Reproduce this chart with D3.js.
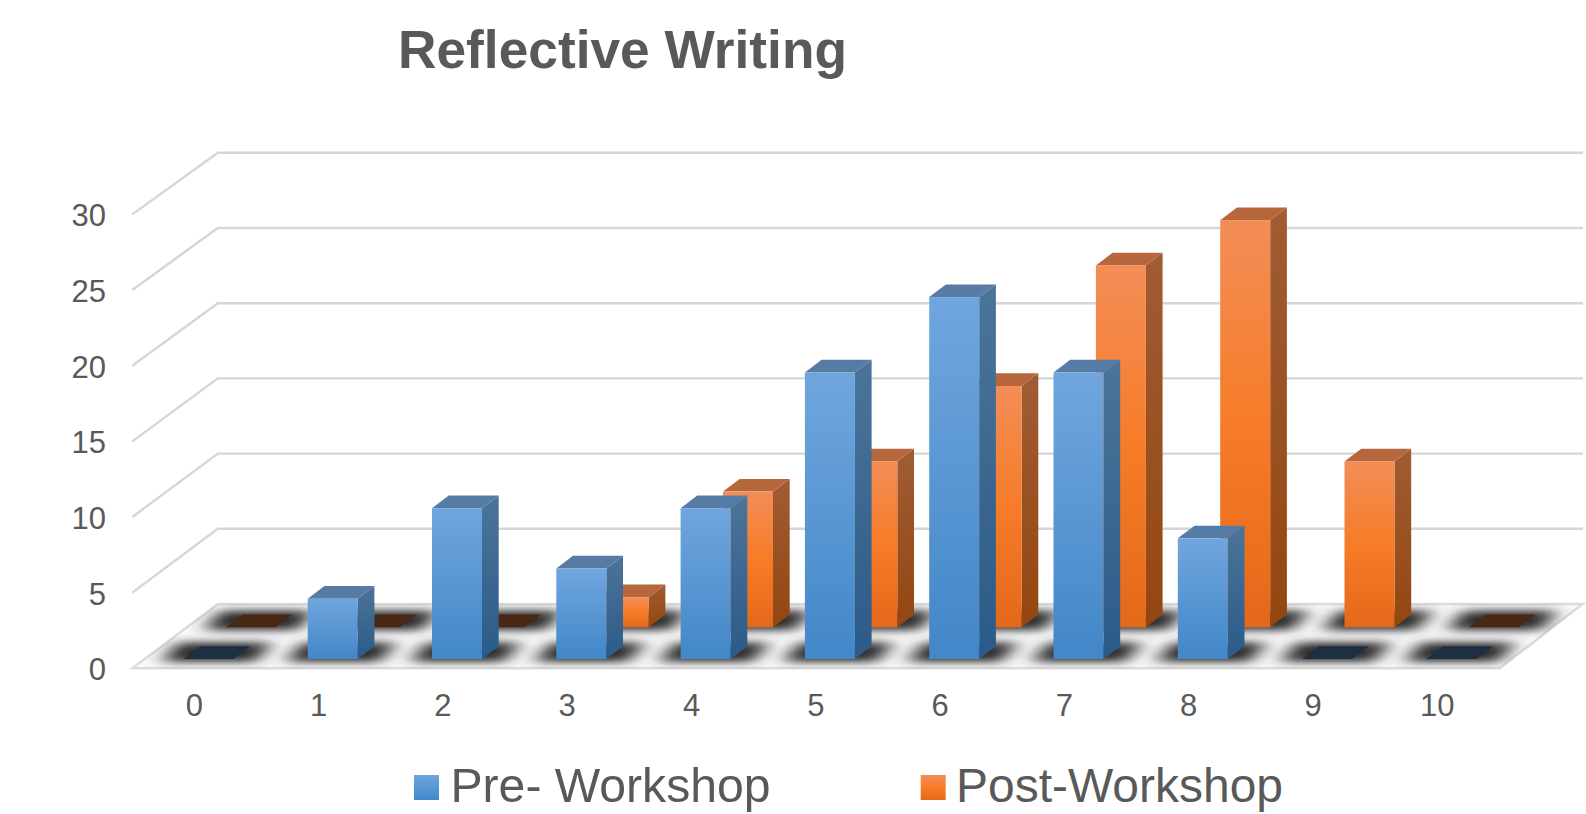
<!DOCTYPE html>
<html>
<head>
<meta charset="utf-8">
<title>Reflective Writing</title>
<script src="https://cdn.jsdelivr.net/npm/d3@7/dist/d3.min.js"></script>
<style>
    html, body { margin: 0; background: #fff; overflow: hidden; }
    svg { display: block; }
    text { font-family: "Liberation Sans", Arial, sans-serif; fill: #595959; }
    .axis text { font-size: 31px; }
    .axis path, .axis line { display: none; }
</style>
</head>
<body>
<div id="chart"></div>
<script>
// 3D clustered column chart, two rows of bars on an oblique floor

const titleText = 'Reflective Writing';
const categories = [0, 1, 2, 3, 4, 5, 6, 7, 8, 9, 10];
const yTicks = [0, 5, 10, 15, 20, 25, 30];
const preValues = [0, 4, 10, 6, 10, 19, 24, 19, 8, 0, 0];
const postValues = [0, 0, 0, 2, 9, 11, 16, 24, 27, 11, 0];

const width = 1586;
const height = 814;
const barWidth = 50;
const step = 124.3;
const depth = { x: 16.7, y: -12.7 };     // bar depth
const rowShift = { x: 42.4, y: -31.7 };  // second row relative to the first
const wallShift = { x: 85.5, y: -64 };   // floor front edge to back wall

const series = [
    { name: 'Pre- Workshop', values: preValues, row: 0, id: 'pre',
      front: ['#70a6de', '#4287c8'], side: ['#4c7499', '#2a5b89'], top: '#567ca6', flat: '#1f2f42' },
    { name: 'Post-Workshop', values: postValues, row: 1, id: 'post',
      front: ['#f38d57', '#f67c28', '#e4681a'], side: ['#a05c34', '#944610'], top: '#b6683c', flat: '#4a2816' }
];

const svg = d3.select('#chart').append('svg')
    .attr('width', width)
    .attr('height', height);

const defs = svg.append('defs');

function addGradient(id, stops) {
    const grad = defs.append('linearGradient')
        .attr('id', id)
        .attr('x1', 0).attr('y1', 0).attr('x2', 0).attr('y2', 1);
    stops.forEach((c, i) => {
        grad.append('stop')
            .attr('offset', i / (stops.length - 1))
            .attr('stop-color', c);
    });
}

series.forEach(s => {
    addGradient(`${s.id}-front`, s.front);
    addGradient(`${s.id}-side`, s.side);
});

const blur = defs.append('filter')
    .attr('id', 'floor-shadow')
    .attr('filterUnits', 'userSpaceOnUse')
    .attr('x', 100).attr('y', 570)
    .attr('width', width - 100).attr('height', 130);
blur.append('feGaussianBlur').attr('stdDeviation', '10 4.2');

const softLine = defs.append('filter').attr('id', 'soft-line')
    .attr('x', '-2%').attr('y', '-10%').attr('width', '104%').attr('height', '120%');
softLine.append('feGaussianBlur').attr('stdDeviation', 0.5);

// Scales
const x = d3.scaleLinear().domain([0, 10]).range([183.4, 183.4 + step * 10]);
const y = d3.scaleLinear().domain([0, 30]).range([659, 659 - 15.08 * 30]);
const wallY = d3.scaleLinear().domain([0, 30]).range([604, 604 - 15.04 * 30]);
const frontY = d3.scaleLinear().domain([0, 30]).range([668.3, 214.4]);

const poly = d3.line();
const floorCorners = [
    [132.3, frontY(0)],
    [1500, frontY(0)],
    [1500 + wallShift.x - 2.8, wallY(0)],
    [132.3 + wallShift.x, wallY(0)]
];

defs.append('clipPath').attr('id', 'floor-clip')
    .append('path').attr('d', poly(floorCorners) + 'Z');

// Back wall and side wall gridlines
const grid = svg.append('g')
    .attr('stroke', '#d6d6d6')
    .attr('stroke-width', 2.4)
    .attr('fill', 'none')
    .attr('filter', 'url(#soft-line)');

yTicks.filter(t => t > 0).forEach(t => {
    grid.append('path').attr('d', poly([
        [132.3, frontY(t)],
        [132.3 + wallShift.x, wallY(t)],
        [width - 3, wallY(t)]
    ]));
});

// Floor
svg.append('path')
    .attr('d', poly(floorCorners) + 'Z')
    .attr('fill', '#fbfbfb')
    .attr('stroke', '#dcdcdc')
    .attr('stroke-width', 2.4);

// Base corner of one column
function baseOf(cat, row) {
    return {
        x: x(cat) + rowShift.x * row,
        y: y(0) + rowShift.y * row
    };
}

// Soft shadows under every column position
const shadows = svg.append('g')
    .attr('clip-path', 'url(#floor-clip)')
    .append('g')
    .attr('filter', 'url(#floor-shadow)');

series.forEach(s => {
    categories.forEach(cat => {
        const b = baseOf(cat, s.row);
        shadows.append('path')
            .attr('d', poly([
                [b.x - 22, b.y + 3],
                [b.x + barWidth + 22, b.y + 3],
                [b.x + barWidth + depth.x + 22, b.y + depth.y - 4],
                [b.x + depth.x - 22, b.y + depth.y - 4]
            ]) + 'Z')
            .attr('fill', '#2b2b2b');
    });
});

// Columns, back row first so the front row covers it
function drawBar(g, s, cat, value) {
    const b = baseOf(cat, s.row);
    const h = y(0) - y(value);
    const top = b.y - h;
    const topFace = [
        [b.x, top],
        [b.x + barWidth, top],
        [b.x + barWidth + depth.x, top + depth.y],
        [b.x + depth.x, top + depth.y]
    ];

    if (value === 0) {
        g.append('path').attr('d', poly(topFace) + 'Z').attr('fill', s.flat);
        return;
    }

    g.append('path')
        .attr('d', poly([
            [b.x + barWidth, b.y],
            [b.x + barWidth + depth.x, b.y + depth.y],
            [b.x + barWidth + depth.x, top + depth.y],
            [b.x + barWidth, top]
        ]) + 'Z')
        .attr('fill', `url(#${s.id}-side)`);

    g.append('path').attr('d', poly(topFace) + 'Z').attr('fill', s.top);

    g.append('rect')
        .attr('x', b.x)
        .attr('y', top)
        .attr('width', barWidth)
        .attr('height', h)
        .attr('fill', `url(#${s.id}-front)`);
}

const bars = svg.append('g');
[series[1], series[0]].forEach(s => {
    s.values.forEach((v, i) => drawBar(bars, s, categories[i], v));
});

// Axes
const xLabels = d3.scalePoint()
    .domain(categories)
    .range([193.8, 193.8 + step * 10]);

svg.append('g')
    .attr('class', 'axis x-axis')
    .attr('transform', 'translate(0,694)')
    .call(d3.axisBottom(xLabels).tickSize(0).tickPadding(0));

svg.append('g')
    .attr('class', 'axis y-axis')
    .attr('transform', 'translate(106,1.5)')
    .call(d3.axisLeft(frontY).tickValues(yTicks).tickSize(0).tickPadding(0));

// Title
svg.append('text')
    .attr('x', 398)
    .attr('y', 68)
    .attr('font-size', 54)
    .attr('font-weight', 'bold')
    .attr('textLength', 449)
    .attr('lengthAdjust', 'spacingAndGlyphs')
    .text(titleText);

// Legend
const legendItems = [
    { s: series[0], boxX: 414, textX: 450.5, textW: 320 },
    { s: series[1], boxX: 920.7, textX: 956, textW: 327 }
];

legendItems.forEach(d => {
    svg.append('rect')
        .attr('x', d.boxX)
        .attr('y', 775)
        .attr('width', 25)
        .attr('height', 25)
        .attr('fill', `url(#${d.s.id}-front)`);

    svg.append('text')
        .attr('x', d.textX)
        .attr('y', 802)
        .attr('font-size', 48)
        .attr('textLength', d.textW)
        .attr('lengthAdjust', 'spacingAndGlyphs')
        .text(d.s.name);
});
</script>
</body>
</html>
